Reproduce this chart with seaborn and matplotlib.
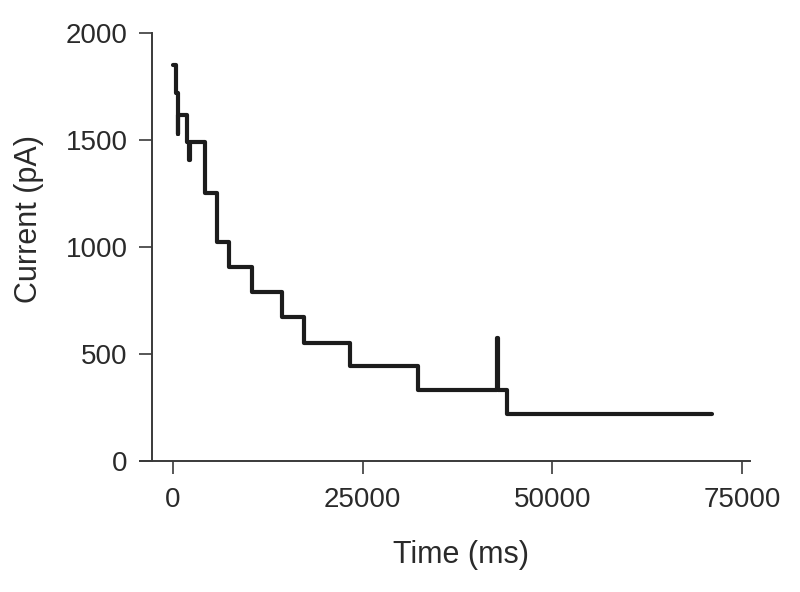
import pandas as pd
import seaborn as sns
import matplotlib.pyplot as plt

# step trace (steps-post: value holds until next time)
time_ms = [0, 450, 640, 700, 1900, 2200, 2260, 4200, 5900, 7450, 10400,
           14450, 17250, 23400, 32250, 42750, 42770, 43950, 71000]
current_pa = [1850, 1720, 1530, 1615, 1490, 1405, 1490, 1252, 1023, 907, 790,
              673, 551, 442, 332, 575, 332, 218, 218]

x_ticks = [0, 25000, 50000, 75000]
y_ticks = [0, 500, 1000, 1500, 2000]

trace = pd.DataFrame({'Time': time_ms, 'Current': current_pa})

sns.set_theme(style="ticks")
plt.rcParams['font.family'] = ['Liberation Sans', 'DejaVu Sans']

fig = plt.figure(figsize=(8, 5.92), dpi=100)
ax = fig.add_axes([0.175, 0.2213, 0.7625, 0.723])

sns.lineplot(data=trace, x='Time', y='Current', estimator=None, sort=False,
             drawstyle='steps-post', color='#1c1c1c', linewidth=3.0, ax=ax)

ax.set(xlim=(-4300, 76000), ylim=(0, 2000),
       xlabel='Time (ms)', ylabel='Current (pA)')
ax.set_xticks(x_ticks)
ax.set_yticks(y_ticks)

# y axis sits a little right of the x axis start
ax.spines['left'].set_position(('data', -2750))
ax.spines['top'].set_visible(False)
ax.spines['right'].set_visible(False)
for s in ['left', 'bottom']:
    ax.spines[s].set_color('#3a3a3a')
    ax.spines[s].set_linewidth(1.4)

ax.tick_params(axis='both', colors='#3a3a3a', length=9.5, width=1.2,
               labelsize=20, labelcolor='#2a2a2a')
ax.tick_params(axis='x', pad=9)
ax.tick_params(axis='y', pad=8)
ax.xaxis.label.set_size(22)
ax.yaxis.label.set_size(22)
ax.xaxis.label.set_color('#2a2a2a')
ax.yaxis.label.set_color('#2a2a2a')
ax.xaxis.set_label_coords(0.527, -0.185)
ax.yaxis.set_label_coords(-0.157, 0.565)

fig.savefig('out.png', dpi=100)
